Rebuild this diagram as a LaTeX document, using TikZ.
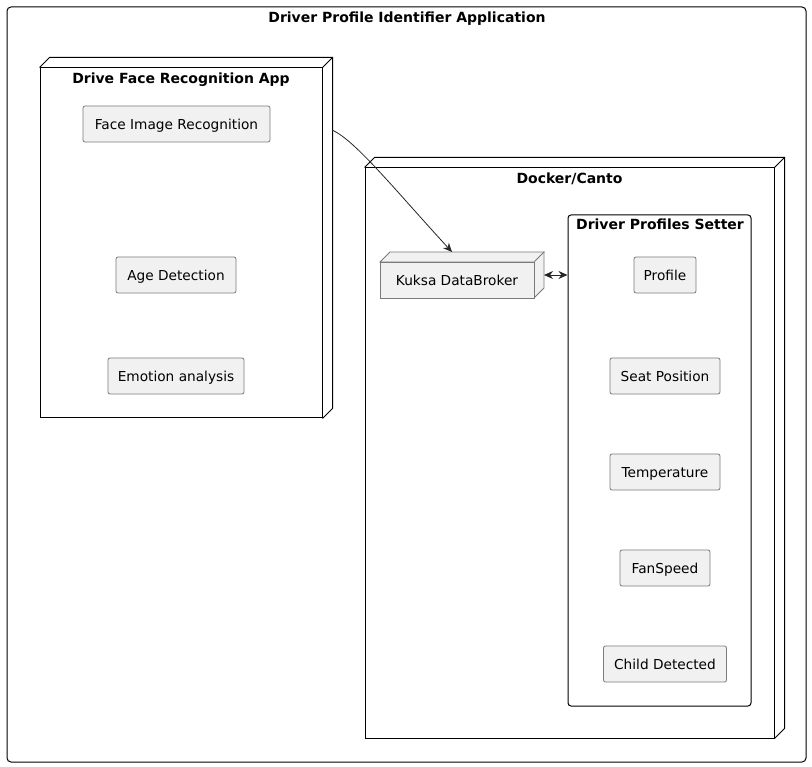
\documentclass[tikz,border=0pt]{standalone}
\usepackage{fontspec}
\setmainfont{DejaVu Sans}
\usetikzlibrary{arrows.meta}
\definecolor{compfill}{HTML}{F1F1F1}
\definecolor{compline}{HTML}{7A7A7A}

\begin{document}
\begin{tikzpicture}[x=1pt,y=-1pt,
  frame/.style={draw=black,line width=1pt,inner sep=0pt},
  comp/.style={draw=compline,fill=compfill,line width=0.8pt,rounded corners=2pt,
    inner sep=0pt,minimum height=36pt,text height=11pt,text depth=0pt,
    font=\fontsize{13.7}{16}\selectfont},
  title/.style={anchor=base,font=\fontsize{14}{16}\selectfont\bfseries},
  flow/.style={draw=black!85,line width=0.8pt,-{Stealth[length=9pt,width=8pt]}},
  biflow/.style={draw=black!85,line width=0.8pt,{Stealth[length=9pt,width=8pt]}-{Stealth[length=9pt,width=8pt]}}]
\useasboundingbox (0,0) rectangle (812,767);

% Application frame
\node[frame,rounded corners=4pt,minimum width=799pt,minimum height=755pt] (appframe) at (406.5,384.5) {};
\node[title] (apptitle) at (407,23) {Driver Profile Identifier Application};

% Drive Face Recognition App - 3D node
\node[frame,minimum width=282pt,minimum height=350pt] (faceapp) at (181,243) {};
\draw[frame] (faceapp.north west) -- ++(10,-10) -- ([shift={(10,-10)}]faceapp.north east)
  -- ([shift={(10,-10)}]faceapp.south east) -- (faceapp.south east);
\draw[frame] (faceapp.north east) -- ++(10,-10);
\node[title] (facetitle) at (181,84) {Drive Face Recognition App};

\node[comp,minimum width=187pt] (faceimg) at (176.5,124) {Face Image Recognition};
\node[comp,minimum width=120pt] (agedet) at (176,275) {Age Detection};
\node[comp,minimum width=136pt] (emotion) at (176,376) {Emotion analysis};

% Docker/Canto - 3D node
\node[frame,minimum width=409pt,minimum height=570pt] (docker) at (569.5,453) {};
\draw[frame] (docker.north west) -- ++(10,-10) -- ([shift={(10,-10)}]docker.north east)
  -- ([shift={(10,-10)}]docker.south east) -- (docker.south east);
\draw[frame] (docker.north east) -- ++(10,-10);
\node[title] (dockertitle) at (569.5,184) {Docker/Canto};

% Kuksa DataBroker - small 3D node
\fill[compfill,draw=compline,line width=0.8pt] (457,280) ++(-77,-18) -- ++(10,-10) -- ++(154,0)
  -- ++(0,36) -- ++(-10,10) -- ++(0,-36) -- cycle;
\node[comp,rounded corners=0pt,minimum width=154pt] (kuksa) at (457,280) {Kuksa DataBroker};
\draw[compline,line width=0.8pt] (kuksa.north east) -- ++(10,-10);

% Driver Profiles Setter
\node[frame,rounded corners=3pt,minimum width=183pt,minimum height=491pt] (setter) at (659.5,460.5) {};
\node[title] (settertitle) at (660,230) {Driver Profiles Setter};

\node[comp,minimum width=62pt] (profile) at (665,275) {Profile};
\node[comp,minimum width=110pt] (seatpos) at (665,376) {Seat Position};
\node[comp,minimum width=110pt] (temp) at (665,472) {Temperature};
\node[comp,minimum width=90pt] (fanspeed) at (665,568) {FanSpeed};
\node[comp,minimum width=123pt] (child) at (665,664) {Child Detected};

% connectors
\coordinate (appout) at (332,130);
\coordinate (kuksain) at (452,252);
\draw[flow] (appout) .. controls (355,140) and (395,190) .. (kuksain);

\coordinate (kuksaside) at (544,275);
\draw[biflow] (kuksaside) -- (setter.west |- kuksaside);

\end{tikzpicture}
\end{document}
